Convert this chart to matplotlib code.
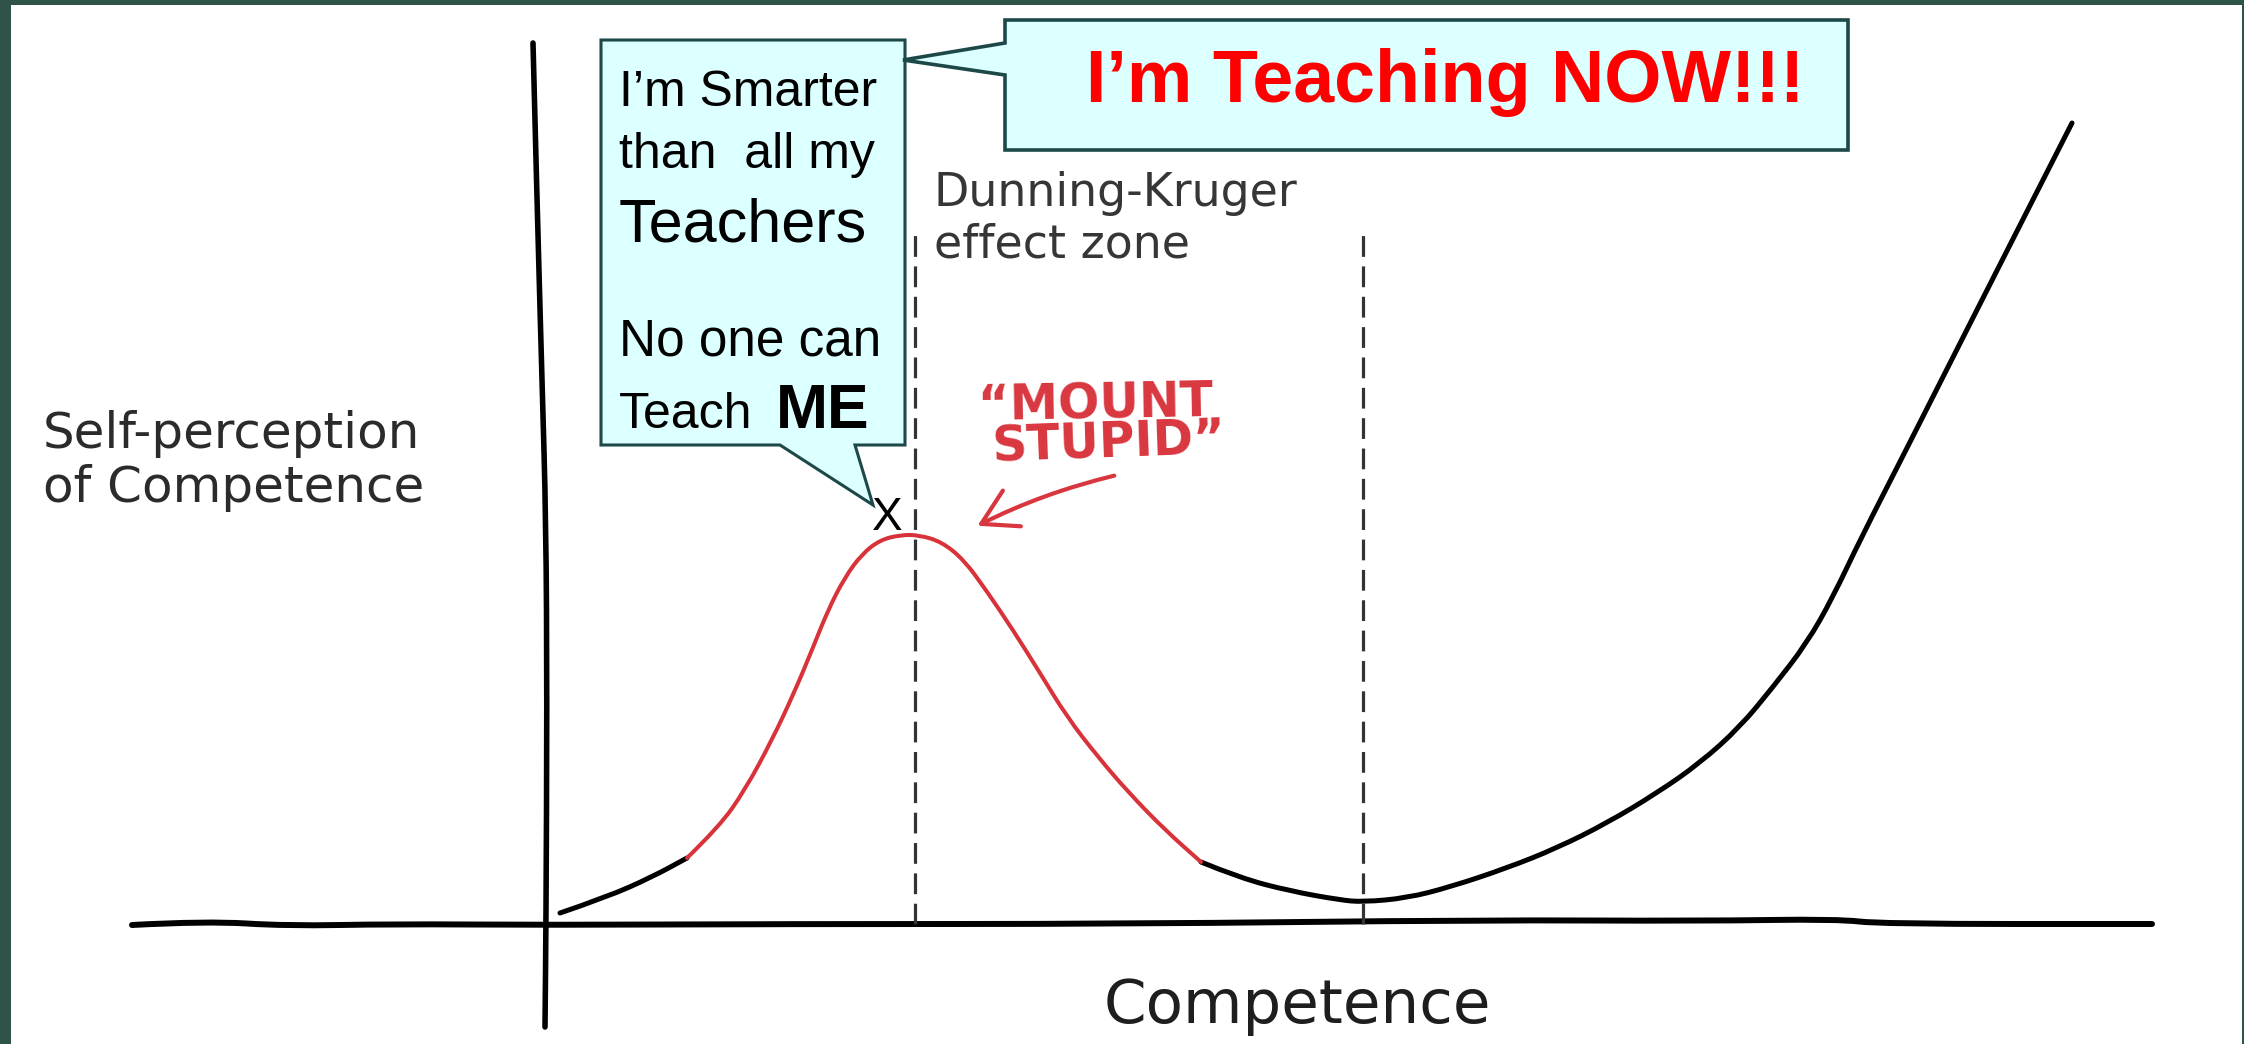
"""
Dunning-Kruger chart with the two speech bubbles on top.
Competence on x, self-perception on y (origin where the hand drawn axes cross).
"""
import matplotlib
matplotlib.use("Agg")
import matplotlib.pyplot as plt
from matplotlib.patches import Polygon, Rectangle, FancyArrowPatch, PathPatch
from matplotlib.path import Path
from matplotlib.transforms import Affine2D

# curve (competence, self-perception)
left_x = [0.20, 0.67, 1.12, 1.47]
left_y = [0.11, 0.27, 0.47, 0.66]

# "mount stupid" part, drawn in red
peak_x = [1.47, 1.79, 2.05, 2.32, 2.54, 2.72, 2.88, 3.05, 3.22, 3.40, 3.60, 3.79,
          4.02, 4.24, 4.46, 4.73, 5.00, 5.27, 5.58, 5.89, 6.25, 6.61]
peak_y = [0.66, 0.97, 1.34, 1.84, 2.31, 2.74, 3.14, 3.47, 3.70, 3.84, 3.89, 3.89,
          3.82, 3.64, 3.34, 2.94, 2.51, 2.07, 1.67, 1.31, 0.94, 0.62]

right_x = [6.61, 7.00, 7.50, 8.00, 8.23, 8.67, 9.10, 9.67, 10.17, 10.67, 11.17, 11.60,
           12.00, 12.33, 12.67, 12.93, 13.20, 13.66, 14.08, 14.76, 15.32]
right_y = [0.62, 0.46, 0.33, 0.24, 0.22, 0.26, 0.37, 0.56, 0.76, 1.01, 1.31, 1.61,
           1.97, 2.37, 2.81, 3.27, 3.84, 4.74, 5.57, 6.91, 8.01]

# hand drawn axes
haxis_x = [-4.08, -3.33, -2.54, -1.46, 0.04, 2.47, 5.82, 9.40, 11.60, 12.98, 13.40, 16.12]
haxis_y = [-0.01, 0.03, -0.02, 0.00, -0.01, 0.00, 0.00, 0.04, 0.03, 0.05, 0.00, 0.00]
vaxis_x = [-0.07, -0.03, 0.02, 0.06, 0.07, 0.06, 0.05]
vaxis_y = [8.81, 7.24, 5.44, 4.02, 2.24, -0.01, -1.03]

# Dunning-Kruger zone borders (x) and their top ends (y)
zone_x = [3.75, 8.23]
zone_top = [6.95, 6.91]


def smooth_path(xs, ys):
    # quadratic bezier through the midpoints, read points act as control points
    pts = list(zip(xs, ys))
    verts = [pts[0]]
    codes = [Path.MOVETO]
    for i in range(1, len(pts) - 1):
        mid = ((pts[i][0] + pts[i + 1][0]) / 2, (pts[i][1] + pts[i + 1][1]) / 2)
        verts += [pts[i], mid]
        codes += [Path.CURVE3, Path.CURVE3]
    verts.append(pts[-1])
    codes.append(Path.LINETO)
    return Path(verts, codes)


def draw_curve(ax, xs, ys, color, lw, z=3):
    ax.add_patch(PathPatch(smooth_path(xs, ys), facecolor="none", edgecolor=color,
                           lw=lw, capstyle="round", joinstyle="round", zorder=z))


W, H = 2244, 1044
fig = plt.figure(figsize=(W / 100, H / 100), dpi=100)
fig.patch.set_facecolor("#2f5249")

ax = fig.add_axes([0, 0, 1, 1])
ax.set_xlim(-5.40, 17.04)
ax.set_ylim(-1.20, 9.24)
ax.axis("off")

# pixel coordinates, top-left origin, for the layout bits
pix = Affine2D().scale(1 / W, -1 / H).translate(0, 1) + fig.transFigure

# white slide area
ax.add_patch(Rectangle((11, 5), 2231, 1039, transform=pix, facecolor="white",
                       edgecolor="none", zorder=0))

# axes and curve
draw_curve(ax, haxis_x, haxis_y, "black", 4.3, z=2)
draw_curve(ax, vaxis_x, vaxis_y, "black", 4.0, z=2)
draw_curve(ax, left_x, left_y, "black", 3.6)
draw_curve(ax, right_x, right_y, "black", 3.6)
draw_curve(ax, peak_x, peak_y, "#d8333b", 2.9)

for zx, zt in zip(zone_x, zone_top):
    ln, = ax.plot([zx, zx], [0, zt], color="#333333", lw=2.3, zorder=2)
    ln.set_dashes([6.5, 3])

# labels of the underlying graph
graph_font = "DejaVu Sans"
ax.text(43, 448, "Self-perception", transform=pix, fontsize=36, family=graph_font,
        color="#2b2b2b", va="baseline", ha="left")
ax.text(43, 502, "of Competence", transform=pix, fontsize=36, family=graph_font,
        color="#2b2b2b", va="baseline", ha="left")
ax.text(934, 206, "Dunning-Kruger", transform=pix, fontsize=33, family=graph_font,
        color="#363636", va="baseline", ha="left")
ax.text(934, 258, "effect zone", transform=pix, fontsize=33, family=graph_font,
        color="#363636", va="baseline", ha="left")
ax.text(1297, 1023, "Competence", transform=pix, fontsize=44, family=graph_font,
        color="#1e1e1e", va="baseline", ha="center")

# "mount stupid" note and its arrow
ax.text(978, 421, "\u201cMOUNT", transform=pix, fontsize=35, family=graph_font,
        fontweight="bold", color="#d9373f", va="baseline", ha="left",
        rotation=1, rotation_mode="anchor")
ax.text(992, 462, "STUPID\u201d", transform=pix, fontsize=35, family=graph_font,
        fontweight="bold", color="#d9373f", va="baseline", ha="left",
        rotation=2, rotation_mode="anchor")
ax.add_patch(FancyArrowPatch((1117, 475), (975, 527), transform=pix,
                             arrowstyle="->,head_length=0.55,head_width=0.32",
                             mutation_scale=45, connectionstyle="arc3,rad=0.06",
                             color="#d9373f", lw=3.0, zorder=4))

# speech bubbles
bubble_face = "#dcffff"
bubble_edge = "#1d4848"
left_bubble = [(601, 40), (905, 40), (905, 445), (855, 445), (873, 505),
               (780, 445), (601, 445)]
ax.add_patch(Polygon(left_bubble, closed=True, transform=pix, facecolor=bubble_face,
                     edgecolor=bubble_edge, lw=2.2, joinstyle="miter", zorder=5))
top_bubble = [(1005, 20), (1848, 20), (1848, 150), (1005, 150), (1005, 75),
              (903, 60), (1005, 43)]
ax.add_patch(Polygon(top_bubble, closed=True, transform=pix, facecolor=bubble_face,
                     edgecolor=bubble_edge, lw=2.6, joinstyle="miter", zorder=5))

box_font = "Liberation Sans"
ax.text(619, 106, "I\u2019m Smarter", transform=pix, fontsize=36, family=box_font,
        color="black", va="baseline", zorder=6)
ax.text(619, 168, "than  all my", transform=pix, fontsize=36, family=box_font,
        color="black", va="baseline", zorder=6)
ax.text(619, 242, "Teachers", transform=pix, fontsize=44, family=box_font,
        color="black", va="baseline", zorder=6)
ax.text(619, 355, "No one can", transform=pix, fontsize=37, family=box_font,
        color="black", va="baseline", zorder=6)
ax.text(619, 428, "Teach", transform=pix, fontsize=36, family=box_font,
        color="black", va="baseline", zorder=6)
ax.text(776, 428, "ME", transform=pix, fontsize=45, family=box_font,
        fontweight="bold", color="black", va="baseline", zorder=6)
ax.text(887, 530, "X", transform=pix, fontsize=33, family=box_font,
        color="black", va="baseline", ha="center", zorder=6)

ax.text(1086, 102, "I\u2019m Teaching NOW!!!", transform=pix, fontsize=53,
        family=box_font, fontweight="bold", color="#ff0000", va="baseline", zorder=6)

fig.savefig("out.png", dpi=100, facecolor=fig.get_facecolor())
